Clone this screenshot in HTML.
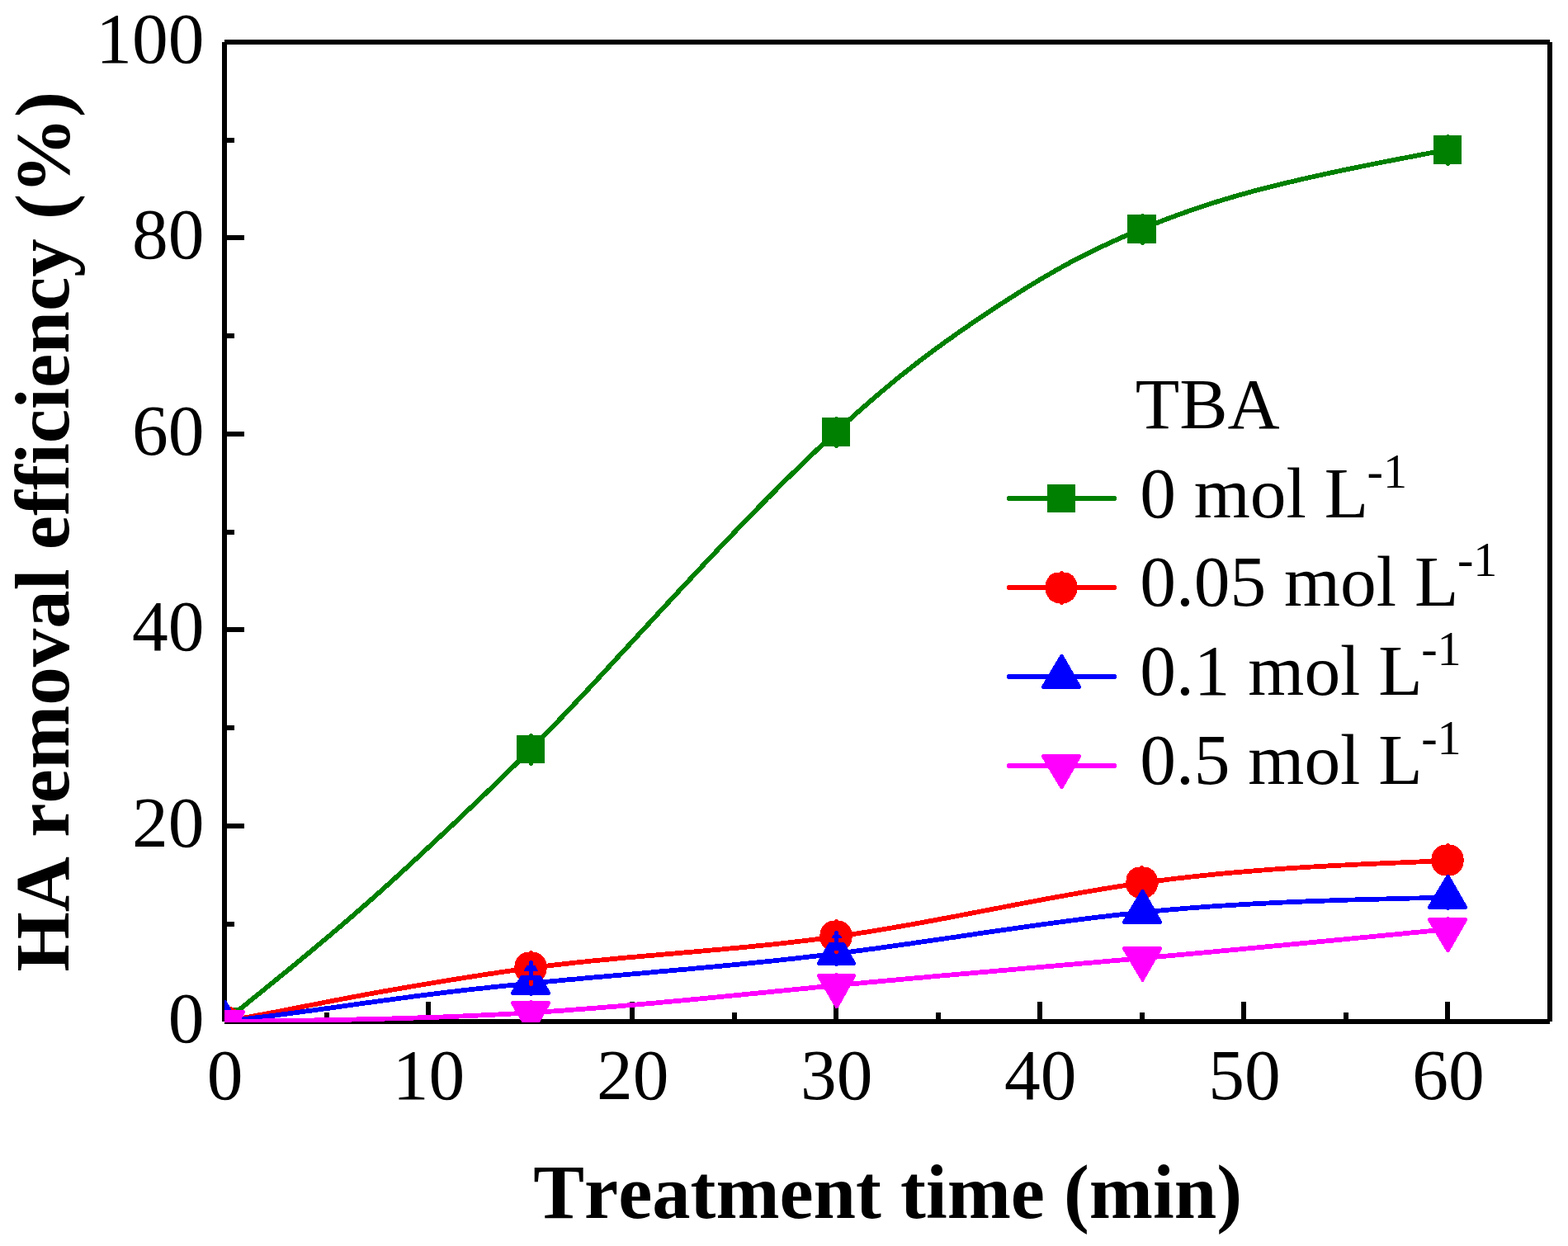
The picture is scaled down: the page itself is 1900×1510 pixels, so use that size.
<!DOCTYPE html>
<html lang="en"><head><meta charset="utf-8"><title>HA removal efficiency vs treatment time (TBA)</title>
<style>html,body{margin:0;padding:0;background:#fff;}body{width:1900px;height:1510px;overflow:hidden;}svg{display:block;}text{font-family:"Liberation Serif","DejaVu Serif",serif;fill:#000;font-kerning:none;font-variant-ligatures:none;font-feature-settings:"kern" 0,"liga" 0,"clig" 0;}</style>
</head><body>
<svg width="1900" height="1510" viewBox="0 0 1900 1510">
<rect x="0" y="0" width="1900" height="1510" fill="#fff"/>
<g fill="#000" shape-rendering="crispEdges">
<rect x="269" y="51" width="6" height="1187"/>
<rect x="1875" y="51" width="6" height="1187"/>
<rect x="272" y="48" width="1606" height="6"/>
<rect x="272" y="1235" width="1606" height="6"/>
<rect x="272" y="1117" width="12" height="6"/>
<rect x="272" y="998" width="24" height="6"/>
<rect x="272" y="879" width="12" height="6"/>
<rect x="272" y="760" width="24" height="6"/>
<rect x="272" y="642" width="12" height="6"/>
<rect x="272" y="523" width="24" height="6"/>
<rect x="272" y="404" width="12" height="6"/>
<rect x="272" y="285" width="24" height="6"/>
<rect x="272" y="167" width="12" height="6"/>
<rect x="393" y="1227" width="6" height="11"/>
<rect x="516" y="1214" width="6" height="24"/>
<rect x="640" y="1227" width="6" height="11"/>
<rect x="763" y="1214" width="6" height="24"/>
<rect x="887" y="1227" width="6" height="11"/>
<rect x="1010" y="1214" width="6" height="24"/>
<rect x="1134" y="1227" width="6" height="11"/>
<rect x="1257" y="1214" width="6" height="24"/>
<rect x="1381" y="1227" width="6" height="11"/>
<rect x="1504" y="1214" width="6" height="24"/>
<rect x="1628" y="1227" width="6" height="11"/>
<rect x="1751" y="1214" width="6" height="24"/>
</g>
<g font-size="87.46px" text-anchor="end">
<text x="247.4" y="1263.0">0</text>
<text x="247.4" y="1025.6">20</text>
<text x="247.4" y="788.2">40</text>
<text x="247.4" y="550.8">60</text>
<text x="247.4" y="313.4">80</text>
<text x="247.4" y="76.0">100</text>
</g>
<g font-size="87.46px" text-anchor="middle">
<text x="272.5" y="1331.5">0</text>
<text x="519.6" y="1331.5">10</text>
<text x="766.7" y="1331.5">20</text>
<text x="1013.7" y="1331.5">30</text>
<text x="1260.8" y="1331.5">40</text>
<text x="1507.9" y="1331.5">50</text>
<text x="1755.0" y="1331.5">60</text>
</g>
<text x="646.3" y="1475.6" font-size="92.6px" font-weight="bold">Treatment time (min)</text>
<text transform="translate(83.1,1177.6) rotate(-90)" font-size="93px" font-weight="bold">HA removal efficiency (%)</text>
<defs><clipPath id="plotclip"><rect x="272" y="40" width="1620" height="1199"/></clipPath></defs>
<g clip-path="url(#plotclip)" shape-rendering="crispEdges">
<path d="M272.0,1238.0 L277.7,1233.4 L283.4,1228.8 L289.2,1224.2 L294.9,1219.6 L300.6,1214.9 L306.3,1210.3 L312.1,1205.7 L317.8,1201.1 L323.5,1196.4 L329.2,1191.8 L334.9,1187.1 L340.7,1182.4 L346.4,1177.8 L352.1,1173.1 L357.8,1168.4 L363.6,1163.6 L369.3,1158.9 L375.0,1154.2 L380.7,1149.4 L386.4,1144.6 L392.2,1139.8 L397.9,1135.0 L403.6,1130.2 L409.3,1125.3 L415.1,1120.4 L420.8,1115.5 L426.5,1110.6 L432.2,1105.6 L437.9,1100.6 L443.7,1095.6 L449.4,1090.6 L455.1,1085.5 L460.8,1080.4 L466.5,1075.3 L472.3,1070.1 L478.0,1064.9 L483.7,1059.7 L489.4,1054.5 L495.2,1049.2 L500.9,1043.9 L506.6,1038.6 L512.3,1033.3 L518.0,1028.0 L523.8,1022.6 L529.5,1017.3 L535.2,1011.9 L540.9,1006.5 L546.7,1001.2 L552.4,995.8 L558.1,990.4 L563.8,984.9 L569.5,979.5 L575.3,974.1 L581.0,968.6 L586.7,963.2 L592.4,957.7 L598.2,952.2 L603.9,946.6 L609.6,941.1 L615.3,935.5 L621.0,929.9 L626.8,924.2 L632.5,918.5 L638.2,912.8 L643.9,907.1 L649.7,901.3 L655.4,895.4 L661.1,889.6 L666.8,883.7 L672.5,877.7 L678.3,871.8 L684.0,865.8 L689.7,859.7 L695.4,853.7 L701.2,847.6 L706.9,841.5 L712.6,835.4 L718.3,829.2 L724.0,823.1 L729.8,816.9 L735.5,810.7 L741.2,804.5 L746.9,798.3 L752.6,792.1 L758.4,785.9 L764.1,779.7 L769.8,773.5 L775.5,767.3 L781.3,761.1 L787.0,754.9 L792.7,748.7 L798.4,742.5 L804.1,736.3 L809.9,730.1 L815.6,723.9 L821.3,717.8 L827.0,711.6 L832.8,705.5 L838.5,699.4 L844.2,693.3 L849.9,687.2 L855.6,681.1 L861.4,675.0 L867.1,669.0 L872.8,663.0 L878.5,657.0 L884.3,651.0 L890.0,645.0 L895.7,639.1 L901.4,633.2 L907.1,627.3 L912.9,621.4 L918.6,615.5 L924.3,609.7 L930.0,603.9 L935.8,598.2 L941.5,592.4 L947.2,586.7 L952.9,581.0 L958.6,575.4 L964.4,569.8 L970.1,564.2 L975.8,558.7 L981.5,553.1 L987.3,547.7 L993.0,542.2 L998.7,536.8 L1004.4,531.5 L1010.1,526.1 L1015.9,520.9 L1021.6,515.6 L1027.3,510.4 L1033.0,505.3 L1038.7,500.2 L1044.5,495.1 L1050.2,490.1 L1055.9,485.1 L1061.6,480.2 L1067.4,475.3 L1073.1,470.5 L1078.8,465.7 L1084.5,461.0 L1090.2,456.4 L1096.0,451.8 L1101.7,447.3 L1107.4,442.8 L1113.1,438.4 L1118.9,434.0 L1124.6,429.7 L1130.3,425.4 L1136.0,421.2 L1141.7,417.1 L1147.5,412.9 L1153.2,408.9 L1158.9,404.8 L1164.6,400.8 L1170.4,396.9 L1176.1,392.9 L1181.8,389.1 L1187.5,385.2 L1193.2,381.4 L1199.0,377.6 L1204.7,373.8 L1210.4,370.0 L1216.1,366.3 L1221.9,362.6 L1227.6,359.0 L1233.3,355.3 L1239.0,351.8 L1244.7,348.2 L1250.5,344.7 L1256.2,341.3 L1261.9,337.8 L1267.6,334.5 L1273.4,331.2 L1279.1,327.9 L1284.8,324.7 L1290.5,321.5 L1296.2,318.4 L1302.0,315.4 L1307.7,312.4 L1313.4,309.4 L1319.1,306.6 L1324.8,303.7 L1330.6,301.0 L1336.3,298.3 L1342.0,295.6 L1347.7,293.0 L1353.5,290.4 L1359.2,287.8 L1364.9,285.3 L1370.6,282.9 L1376.3,280.5 L1382.1,278.1 L1387.8,275.7 L1393.5,273.4 L1399.2,271.2 L1405.0,268.9 L1410.7,266.7 L1416.4,264.5 L1422.1,262.4 L1427.8,260.3 L1433.6,258.2 L1439.3,256.2 L1445.0,254.2 L1450.7,252.2 L1456.5,250.3 L1462.2,248.4 L1467.9,246.6 L1473.6,244.8 L1479.3,243.0 L1485.1,241.3 L1490.8,239.6 L1496.5,237.9 L1502.2,236.3 L1508.0,234.7 L1513.7,233.1 L1519.4,231.5 L1525.1,230.0 L1530.8,228.5 L1536.6,227.1 L1542.3,225.6 L1548.0,224.2 L1553.7,222.8 L1559.5,221.5 L1565.2,220.1 L1570.9,218.8 L1576.6,217.4 L1582.3,216.1 L1588.1,214.8 L1593.8,213.5 L1599.5,212.3 L1605.2,211.0 L1610.9,209.8 L1616.7,208.6 L1622.4,207.3 L1628.1,206.1 L1633.8,204.9 L1639.6,203.8 L1645.3,202.6 L1651.0,201.4 L1656.7,200.3 L1662.4,199.1 L1668.2,198.0 L1673.9,196.8 L1679.6,195.7 L1685.3,194.6 L1691.1,193.5 L1696.8,192.4 L1702.5,191.3 L1708.2,190.2 L1713.9,189.1 L1719.7,188.0 L1725.4,186.9 L1731.1,185.8 L1736.8,184.7 L1742.6,183.7 L1748.3,182.6 L1754.0,181.5" fill="none" stroke="#008000" stroke-width="5.8" stroke-linejoin="round"/>
<rect x="255" y="1221" width="34" height="34" fill="#008000"/>
<rect x="626" y="891" width="34" height="34" fill="#008000"/><rect x="641.0" y="890.0" width="5" height="37.0" fill="#008000"/><rect x="642.0" y="889.0" width="3" height="39.0" fill="#008000"/>
<rect x="996" y="506" width="34" height="35" fill="#008000"/><rect x="1011.0" y="506.0" width="5" height="36.0" fill="#008000"/><rect x="1012.0" y="505.0" width="3" height="38.0" fill="#008000"/>
<rect x="1366" y="260" width="35" height="35" fill="#008000"/><rect x="1382.0" y="260.0" width="5" height="36.0" fill="#008000"/><rect x="1383.0" y="259.0" width="3" height="38.0" fill="#008000"/>
<rect x="1737" y="164" width="34" height="35" fill="#008000"/><rect x="1752.0" y="164.0" width="5" height="36.0" fill="#008000"/><rect x="1753.0" y="163.0" width="3" height="38.0" fill="#008000"/>
<path d="M272.0,1238.0 L277.7,1236.9 L283.4,1235.9 L289.2,1234.8 L294.9,1233.7 L300.6,1232.7 L306.3,1231.6 L312.1,1230.5 L317.8,1229.4 L323.5,1228.4 L329.2,1227.3 L334.9,1226.2 L340.7,1225.1 L346.4,1224.0 L352.1,1222.9 L357.8,1221.7 L363.6,1220.6 L369.3,1219.5 L375.0,1218.4 L380.7,1217.3 L386.4,1216.2 L392.2,1215.0 L397.9,1213.9 L403.6,1212.8 L409.3,1211.7 L415.1,1210.6 L420.8,1209.5 L426.5,1208.4 L432.2,1207.4 L437.9,1206.3 L443.7,1205.2 L449.4,1204.2 L455.1,1203.1 L460.8,1202.1 L466.5,1201.1 L472.3,1200.1 L478.0,1199.1 L483.7,1198.1 L489.4,1197.1 L495.2,1196.1 L500.9,1195.1 L506.6,1194.1 L512.3,1193.2 L518.0,1192.2 L523.8,1191.3 L529.5,1190.3 L535.2,1189.4 L540.9,1188.5 L546.7,1187.5 L552.4,1186.6 L558.1,1185.7 L563.8,1184.8 L569.5,1183.9 L575.3,1183.0 L581.0,1182.1 L586.7,1181.2 L592.4,1180.3 L598.2,1179.5 L603.9,1178.6 L609.6,1177.8 L615.3,1176.9 L621.0,1176.1 L626.8,1175.3 L632.5,1174.5 L638.2,1173.7 L643.9,1173.0 L649.7,1172.2 L655.4,1171.5 L661.1,1170.8 L666.8,1170.1 L672.5,1169.4 L678.3,1168.8 L684.0,1168.1 L689.7,1167.5 L695.4,1166.8 L701.2,1166.2 L706.9,1165.6 L712.6,1165.0 L718.3,1164.4 L724.0,1163.9 L729.8,1163.3 L735.5,1162.8 L741.2,1162.2 L746.9,1161.7 L752.6,1161.1 L758.4,1160.6 L764.1,1160.1 L769.8,1159.6 L775.5,1159.1 L781.3,1158.6 L787.0,1158.1 L792.7,1157.6 L798.4,1157.1 L804.1,1156.6 L809.9,1156.1 L815.6,1155.6 L821.3,1155.1 L827.0,1154.6 L832.8,1154.1 L838.5,1153.6 L844.2,1153.1 L849.9,1152.6 L855.6,1152.1 L861.4,1151.6 L867.1,1151.1 L872.8,1150.6 L878.5,1150.1 L884.3,1149.5 L890.0,1149.0 L895.7,1148.5 L901.4,1147.9 L907.1,1147.4 L912.9,1146.8 L918.6,1146.2 L924.3,1145.7 L930.0,1145.1 L935.8,1144.5 L941.5,1143.9 L947.2,1143.3 L952.9,1142.6 L958.6,1142.0 L964.4,1141.3 L970.1,1140.6 L975.8,1140.0 L981.5,1139.3 L987.3,1138.5 L993.0,1137.8 L998.7,1137.1 L1004.4,1136.3 L1010.1,1135.5 L1015.9,1134.7 L1021.6,1133.9 L1027.3,1133.0 L1033.0,1132.2 L1038.7,1131.3 L1044.5,1130.4 L1050.2,1129.5 L1055.9,1128.6 L1061.6,1127.7 L1067.4,1126.7 L1073.1,1125.8 L1078.8,1124.8 L1084.5,1123.8 L1090.2,1122.8 L1096.0,1121.8 L1101.7,1120.8 L1107.4,1119.8 L1113.1,1118.7 L1118.9,1117.7 L1124.6,1116.6 L1130.3,1115.6 L1136.0,1114.5 L1141.7,1113.4 L1147.5,1112.4 L1153.2,1111.3 L1158.9,1110.2 L1164.6,1109.1 L1170.4,1108.0 L1176.1,1106.9 L1181.8,1105.8 L1187.5,1104.7 L1193.2,1103.6 L1199.0,1102.5 L1204.7,1101.4 L1210.4,1100.3 L1216.1,1099.2 L1221.9,1098.1 L1227.6,1097.0 L1233.3,1095.9 L1239.0,1094.8 L1244.7,1093.7 L1250.5,1092.7 L1256.2,1091.6 L1261.9,1090.5 L1267.6,1089.4 L1273.4,1088.4 L1279.1,1087.3 L1284.8,1086.3 L1290.5,1085.3 L1296.2,1084.2 L1302.0,1083.2 L1307.7,1082.2 L1313.4,1081.2 L1319.1,1080.2 L1324.8,1079.3 L1330.6,1078.3 L1336.3,1077.3 L1342.0,1076.4 L1347.7,1075.5 L1353.5,1074.6 L1359.2,1073.7 L1364.9,1072.8 L1370.6,1072.0 L1376.3,1071.1 L1382.1,1070.3 L1387.8,1069.5 L1393.5,1068.7 L1399.2,1067.9 L1405.0,1067.2 L1410.7,1066.5 L1416.4,1065.7 L1422.1,1065.0 L1427.8,1064.3 L1433.6,1063.7 L1439.3,1063.0 L1445.0,1062.4 L1450.7,1061.8 L1456.5,1061.2 L1462.2,1060.6 L1467.9,1060.0 L1473.6,1059.4 L1479.3,1058.9 L1485.1,1058.3 L1490.8,1057.8 L1496.5,1057.3 L1502.2,1056.8 L1508.0,1056.3 L1513.7,1055.8 L1519.4,1055.4 L1525.1,1054.9 L1530.8,1054.5 L1536.6,1054.1 L1542.3,1053.6 L1548.0,1053.2 L1553.7,1052.8 L1559.5,1052.4 L1565.2,1052.1 L1570.9,1051.7 L1576.6,1051.3 L1582.3,1051.0 L1588.1,1050.6 L1593.8,1050.3 L1599.5,1050.0 L1605.2,1049.7 L1610.9,1049.3 L1616.7,1049.0 L1622.4,1048.7 L1628.1,1048.5 L1633.8,1048.2 L1639.6,1047.9 L1645.3,1047.6 L1651.0,1047.3 L1656.7,1047.1 L1662.4,1046.8 L1668.2,1046.6 L1673.9,1046.3 L1679.6,1046.1 L1685.3,1045.8 L1691.1,1045.6 L1696.8,1045.4 L1702.5,1045.1 L1708.2,1044.9 L1713.9,1044.7 L1719.7,1044.4 L1725.4,1044.2 L1731.1,1044.0 L1736.8,1043.8 L1742.6,1043.5 L1748.3,1043.3 L1754.0,1043.1" fill="none" stroke="#ff0000" stroke-width="5.8" stroke-linejoin="round"/>
<path d="M264.67,1219.50 L279.33,1219.50 A19.9,19.9 0 0 1 291.00,1232.08 L291.00,1243.92 A19.9,19.9 0 0 1 279.33,1256.50 L264.67,1256.50 A19.9,19.9 0 0 1 253.00,1243.92 L253.00,1232.08 A19.9,19.9 0 0 1 264.67,1219.50 Z" fill="#ff0000"/><rect x="270.5" y="1217.5" width="3" height="41" fill="#ff0000"/><rect x="269.5" y="1218.5" width="5" height="39" fill="#ff0000"/><rect x="252.0" y="1235.5" width="40" height="5" fill="#ff0000"/>
<path d="M635.67,1154.00 L650.33,1154.00 A19.9,19.9 0 0 1 662.00,1166.58 L662.00,1178.42 A19.9,19.9 0 0 1 650.33,1191.00 L635.67,1191.00 A19.9,19.9 0 0 1 624.00,1178.42 L624.00,1166.58 A19.9,19.9 0 0 1 635.67,1154.00 Z" fill="#ff0000"/><rect x="641.5" y="1152.0" width="3" height="41" fill="#ff0000"/><rect x="640.5" y="1153.0" width="5" height="39" fill="#ff0000"/><rect x="623.0" y="1170.0" width="40" height="5" fill="#ff0000"/>
<path d="M1005.67,1116.00 L1020.33,1116.00 A19.9,19.9 0 0 1 1032.00,1128.58 L1032.00,1140.42 A19.9,19.9 0 0 1 1020.33,1153.00 L1005.67,1153.00 A19.9,19.9 0 0 1 994.00,1140.42 L994.00,1128.58 A19.9,19.9 0 0 1 1005.67,1116.00 Z" fill="#ff0000"/><rect x="1011.5" y="1114.0" width="3" height="41" fill="#ff0000"/><rect x="1010.5" y="1115.0" width="5" height="39" fill="#ff0000"/><rect x="993.0" y="1132.0" width="40" height="5" fill="#ff0000"/>
<path d="M1376.17,1051.00 L1390.83,1051.00 A19.9,19.9 0 0 1 1402.50,1063.58 L1402.50,1075.42 A19.9,19.9 0 0 1 1390.83,1088.00 L1376.17,1088.00 A19.9,19.9 0 0 1 1364.50,1075.42 L1364.50,1063.58 A19.9,19.9 0 0 1 1376.17,1051.00 Z" fill="#ff0000"/><rect x="1382.0" y="1049.0" width="3" height="41" fill="#ff0000"/><rect x="1381.0" y="1050.0" width="5" height="39" fill="#ff0000"/><rect x="1363.5" y="1067.0" width="40" height="5" fill="#ff0000"/>
<path d="M1746.67,1024.00 L1761.33,1024.00 A19.9,19.9 0 0 1 1773.00,1036.58 L1773.00,1048.42 A19.9,19.9 0 0 1 1761.33,1061.00 L1746.67,1061.00 A19.9,19.9 0 0 1 1735.00,1048.42 L1735.00,1036.58 A19.9,19.9 0 0 1 1746.67,1024.00 Z" fill="#ff0000"/><rect x="1752.5" y="1022.0" width="3" height="41" fill="#ff0000"/><rect x="1751.5" y="1023.0" width="5" height="39" fill="#ff0000"/><rect x="1734.0" y="1040.0" width="40" height="5" fill="#ff0000"/>
<path d="M272.0,1238.0 L277.7,1237.3 L283.4,1236.6 L289.2,1235.9 L294.9,1235.2 L300.6,1234.5 L306.3,1233.8 L312.1,1233.1 L317.8,1232.4 L323.5,1231.7 L329.2,1231.0 L334.9,1230.3 L340.7,1229.5 L346.4,1228.8 L352.1,1228.0 L357.8,1227.3 L363.6,1226.5 L369.3,1225.7 L375.0,1224.9 L380.7,1224.2 L386.4,1223.4 L392.2,1222.6 L397.9,1221.8 L403.6,1221.0 L409.3,1220.2 L415.1,1219.4 L420.8,1218.6 L426.5,1217.8 L432.2,1217.0 L437.9,1216.2 L443.7,1215.4 L449.4,1214.6 L455.1,1213.8 L460.8,1213.0 L466.5,1212.2 L472.3,1211.5 L478.0,1210.7 L483.7,1209.9 L489.4,1209.2 L495.2,1208.4 L500.9,1207.6 L506.6,1206.9 L512.3,1206.2 L518.0,1205.4 L523.8,1204.7 L529.5,1204.0 L535.2,1203.3 L540.9,1202.6 L546.7,1201.9 L552.4,1201.2 L558.1,1200.6 L563.8,1199.9 L569.5,1199.2 L575.3,1198.6 L581.0,1198.0 L586.7,1197.4 L592.4,1196.7 L598.2,1196.1 L603.9,1195.5 L609.6,1194.9 L615.3,1194.4 L621.0,1193.8 L626.8,1193.2 L632.5,1192.6 L638.2,1192.1 L643.9,1191.5 L649.7,1191.0 L655.4,1190.4 L661.1,1189.9 L666.8,1189.3 L672.5,1188.8 L678.3,1188.3 L684.0,1187.7 L689.7,1187.2 L695.4,1186.7 L701.2,1186.2 L706.9,1185.6 L712.6,1185.1 L718.3,1184.6 L724.0,1184.1 L729.8,1183.6 L735.5,1183.1 L741.2,1182.6 L746.9,1182.1 L752.6,1181.6 L758.4,1181.1 L764.1,1180.6 L769.8,1180.1 L775.5,1179.6 L781.3,1179.1 L787.0,1178.6 L792.7,1178.0 L798.4,1177.5 L804.1,1177.0 L809.9,1176.5 L815.6,1176.0 L821.3,1175.5 L827.0,1175.0 L832.8,1174.5 L838.5,1173.9 L844.2,1173.4 L849.9,1172.9 L855.6,1172.4 L861.4,1171.8 L867.1,1171.3 L872.8,1170.8 L878.5,1170.2 L884.3,1169.7 L890.0,1169.1 L895.7,1168.6 L901.4,1168.0 L907.1,1167.4 L912.9,1166.8 L918.6,1166.3 L924.3,1165.7 L930.0,1165.1 L935.8,1164.5 L941.5,1163.9 L947.2,1163.3 L952.9,1162.6 L958.6,1162.0 L964.4,1161.4 L970.1,1160.7 L975.8,1160.1 L981.5,1159.4 L987.3,1158.8 L993.0,1158.1 L998.7,1157.4 L1004.4,1156.7 L1010.1,1156.0 L1015.9,1155.3 L1021.6,1154.6 L1027.3,1153.9 L1033.0,1153.1 L1038.7,1152.4 L1044.5,1151.6 L1050.2,1150.8 L1055.9,1150.1 L1061.6,1149.3 L1067.4,1148.5 L1073.1,1147.7 L1078.8,1146.9 L1084.5,1146.1 L1090.2,1145.3 L1096.0,1144.5 L1101.7,1143.7 L1107.4,1142.9 L1113.1,1142.0 L1118.9,1141.2 L1124.6,1140.4 L1130.3,1139.5 L1136.0,1138.7 L1141.7,1137.9 L1147.5,1137.0 L1153.2,1136.2 L1158.9,1135.4 L1164.6,1134.5 L1170.4,1133.7 L1176.1,1132.8 L1181.8,1132.0 L1187.5,1131.1 L1193.2,1130.3 L1199.0,1129.5 L1204.7,1128.6 L1210.4,1127.8 L1216.1,1127.0 L1221.9,1126.1 L1227.6,1125.3 L1233.3,1124.5 L1239.0,1123.7 L1244.7,1122.9 L1250.5,1122.1 L1256.2,1121.3 L1261.9,1120.5 L1267.6,1119.7 L1273.4,1118.9 L1279.1,1118.1 L1284.8,1117.4 L1290.5,1116.6 L1296.2,1115.9 L1302.0,1115.1 L1307.7,1114.4 L1313.4,1113.7 L1319.1,1112.9 L1324.8,1112.2 L1330.6,1111.5 L1336.3,1110.9 L1342.0,1110.2 L1347.7,1109.5 L1353.5,1108.9 L1359.2,1108.2 L1364.9,1107.6 L1370.6,1107.0 L1376.3,1106.4 L1382.1,1105.8 L1387.8,1105.2 L1393.5,1104.7 L1399.2,1104.1 L1405.0,1103.6 L1410.7,1103.1 L1416.4,1102.5 L1422.1,1102.1 L1427.8,1101.6 L1433.6,1101.1 L1439.3,1100.6 L1445.0,1100.2 L1450.7,1099.8 L1456.5,1099.3 L1462.2,1098.9 L1467.9,1098.5 L1473.6,1098.1 L1479.3,1097.7 L1485.1,1097.4 L1490.8,1097.0 L1496.5,1096.7 L1502.2,1096.3 L1508.0,1096.0 L1513.7,1095.7 L1519.4,1095.3 L1525.1,1095.0 L1530.8,1094.7 L1536.6,1094.5 L1542.3,1094.2 L1548.0,1093.9 L1553.7,1093.6 L1559.5,1093.4 L1565.2,1093.1 L1570.9,1092.9 L1576.6,1092.7 L1582.3,1092.4 L1588.1,1092.2 L1593.8,1092.0 L1599.5,1091.8 L1605.2,1091.6 L1610.9,1091.4 L1616.7,1091.2 L1622.4,1091.0 L1628.1,1090.8 L1633.8,1090.6 L1639.6,1090.5 L1645.3,1090.3 L1651.0,1090.1 L1656.7,1090.0 L1662.4,1089.8 L1668.2,1089.7 L1673.9,1089.5 L1679.6,1089.4 L1685.3,1089.2 L1691.1,1089.1 L1696.8,1088.9 L1702.5,1088.8 L1708.2,1088.6 L1713.9,1088.5 L1719.7,1088.4 L1725.4,1088.2 L1731.1,1088.1 L1736.8,1088.0 L1742.6,1087.9 L1748.3,1087.7 L1754.0,1087.6" fill="none" stroke="#0000ff" stroke-width="5.8" stroke-linejoin="round"/>
<polygon points="272.5,1214.5 293.5,1251.5 250.5,1251.5" fill="#0000ff" stroke="#0000ff" stroke-width="5" stroke-linejoin="round"/>
<polygon points="643.5,1166.5 664.5,1203.5 621.5,1203.5" fill="#0000ff" stroke="#0000ff" stroke-width="5" stroke-linejoin="round"/><rect x="641.0" y="1193.0" width="5" height="13.0" fill="#0000ff"/><rect x="642.0" y="1192.0" width="3" height="15.0" fill="#0000ff"/>
<polygon points="1014.0,1130.5 1034.5,1167.5 992.5,1167.5" fill="#0000ff" stroke="#0000ff" stroke-width="5" stroke-linejoin="round"/><rect x="1011.0" y="1157.0" width="5" height="13.0" fill="#0000ff"/><rect x="1012.0" y="1156.0" width="3" height="15.0" fill="#0000ff"/>
<polygon points="1384.5,1080.5 1405.5,1117.5 1362.5,1117.5" fill="#0000ff" stroke="#0000ff" stroke-width="5" stroke-linejoin="round"/>
<polygon points="1754.5,1062.5 1775.5,1099.5 1732.5,1099.5" fill="#0000ff" stroke="#0000ff" stroke-width="5" stroke-linejoin="round"/><rect x="1752.0" y="1089.0" width="5" height="13.0" fill="#0000ff"/><rect x="1753.0" y="1088.0" width="3" height="15.0" fill="#0000ff"/>
<rect x="634" y="1163" width="19" height="7" fill="#ff0000"/>
<rect x="629" y="1177" width="29" height="5" fill="#ff0000"/>
<rect x="641" y="1165" width="5" height="23" fill="#0000ff"/><rect x="642" y="1164" width="3" height="2" fill="#0000ff"/>
<rect x="641" y="1188" width="5" height="6" fill="#ff0000"/><rect x="642" y="1194" width="3" height="1" fill="#ff0000"/>
<rect x="1004" y="1127" width="19" height="6" fill="#ff0000"/>
<rect x="999" y="1137" width="29" height="5" fill="#ff0000"/>
<rect x="1011" y="1129" width="5" height="13" fill="#0000ff"/><rect x="1012" y="1128" width="3" height="2" fill="#0000ff"/>
<rect x="1011" y="1152" width="5" height="3" fill="#ff0000"/><rect x="1012" y="1155" width="3" height="1" fill="#ff0000"/>
<path d="M272.0,1238.0 L277.7,1237.9 L283.4,1237.9 L289.2,1237.8 L294.9,1237.7 L300.6,1237.6 L306.3,1237.6 L312.1,1237.5 L317.8,1237.4 L323.5,1237.3 L329.2,1237.2 L334.9,1237.2 L340.7,1237.1 L346.4,1237.0 L352.1,1236.9 L357.8,1236.8 L363.6,1236.7 L369.3,1236.6 L375.0,1236.5 L380.7,1236.4 L386.4,1236.3 L392.2,1236.2 L397.9,1236.1 L403.6,1236.0 L409.3,1235.9 L415.1,1235.8 L420.8,1235.7 L426.5,1235.6 L432.2,1235.4 L437.9,1235.3 L443.7,1235.2 L449.4,1235.0 L455.1,1234.9 L460.8,1234.8 L466.5,1234.6 L472.3,1234.5 L478.0,1234.3 L483.7,1234.1 L489.4,1234.0 L495.2,1233.8 L500.9,1233.6 L506.6,1233.4 L512.3,1233.3 L518.0,1233.1 L523.8,1232.9 L529.5,1232.7 L535.2,1232.5 L540.9,1232.2 L546.7,1232.0 L552.4,1231.8 L558.1,1231.5 L563.8,1231.3 L569.5,1231.1 L575.3,1230.8 L581.0,1230.5 L586.7,1230.3 L592.4,1230.0 L598.2,1229.7 L603.9,1229.4 L609.6,1229.1 L615.3,1228.8 L621.0,1228.5 L626.8,1228.2 L632.5,1227.8 L638.2,1227.5 L643.9,1227.1 L649.7,1226.8 L655.4,1226.4 L661.1,1226.0 L666.8,1225.7 L672.5,1225.3 L678.3,1224.9 L684.0,1224.5 L689.7,1224.1 L695.4,1223.6 L701.2,1223.2 L706.9,1222.8 L712.6,1222.3 L718.3,1221.9 L724.0,1221.4 L729.8,1221.0 L735.5,1220.5 L741.2,1220.0 L746.9,1219.6 L752.6,1219.1 L758.4,1218.6 L764.1,1218.1 L769.8,1217.6 L775.5,1217.1 L781.3,1216.6 L787.0,1216.1 L792.7,1215.6 L798.4,1215.1 L804.1,1214.5 L809.9,1214.0 L815.6,1213.5 L821.3,1212.9 L827.0,1212.4 L832.8,1211.9 L838.5,1211.3 L844.2,1210.8 L849.9,1210.2 L855.6,1209.7 L861.4,1209.1 L867.1,1208.6 L872.8,1208.0 L878.5,1207.5 L884.3,1206.9 L890.0,1206.3 L895.7,1205.8 L901.4,1205.2 L907.1,1204.6 L912.9,1204.1 L918.6,1203.5 L924.3,1202.9 L930.0,1202.4 L935.8,1201.8 L941.5,1201.2 L947.2,1200.7 L952.9,1200.1 L958.6,1199.5 L964.4,1199.0 L970.1,1198.4 L975.8,1197.9 L981.5,1197.3 L987.3,1196.7 L993.0,1196.2 L998.7,1195.6 L1004.4,1195.1 L1010.1,1194.5 L1015.9,1194.0 L1021.6,1193.4 L1027.3,1192.9 L1033.0,1192.3 L1038.7,1191.8 L1044.5,1191.3 L1050.2,1190.7 L1055.9,1190.2 L1061.6,1189.7 L1067.4,1189.1 L1073.1,1188.6 L1078.8,1188.1 L1084.5,1187.6 L1090.2,1187.0 L1096.0,1186.5 L1101.7,1186.0 L1107.4,1185.5 L1113.1,1185.0 L1118.9,1184.5 L1124.6,1183.9 L1130.3,1183.4 L1136.0,1182.9 L1141.7,1182.4 L1147.5,1181.9 L1153.2,1181.4 L1158.9,1180.9 L1164.6,1180.4 L1170.4,1179.9 L1176.1,1179.4 L1181.8,1178.9 L1187.5,1178.4 L1193.2,1177.9 L1199.0,1177.4 L1204.7,1176.9 L1210.4,1176.4 L1216.1,1175.9 L1221.9,1175.4 L1227.6,1174.9 L1233.3,1174.4 L1239.0,1173.9 L1244.7,1173.4 L1250.5,1172.9 L1256.2,1172.4 L1261.9,1171.9 L1267.6,1171.4 L1273.4,1170.9 L1279.1,1170.4 L1284.8,1169.9 L1290.5,1169.4 L1296.2,1168.9 L1302.0,1168.4 L1307.7,1167.9 L1313.4,1167.4 L1319.1,1166.9 L1324.8,1166.4 L1330.6,1165.9 L1336.3,1165.4 L1342.0,1164.9 L1347.7,1164.4 L1353.5,1163.9 L1359.2,1163.4 L1364.9,1162.9 L1370.6,1162.4 L1376.3,1161.9 L1382.1,1161.4 L1387.8,1160.9 L1393.5,1160.3 L1399.2,1159.8 L1405.0,1159.3 L1410.7,1158.8 L1416.4,1158.3 L1422.1,1157.8 L1427.8,1157.2 L1433.6,1156.7 L1439.3,1156.2 L1445.0,1155.7 L1450.7,1155.1 L1456.5,1154.6 L1462.2,1154.1 L1467.9,1153.6 L1473.6,1153.0 L1479.3,1152.5 L1485.1,1152.0 L1490.8,1151.4 L1496.5,1150.9 L1502.2,1150.4 L1508.0,1149.8 L1513.7,1149.3 L1519.4,1148.7 L1525.1,1148.2 L1530.8,1147.7 L1536.6,1147.1 L1542.3,1146.6 L1548.0,1146.0 L1553.7,1145.5 L1559.5,1145.0 L1565.2,1144.4 L1570.9,1143.9 L1576.6,1143.3 L1582.3,1142.8 L1588.1,1142.2 L1593.8,1141.7 L1599.5,1141.1 L1605.2,1140.6 L1610.9,1140.0 L1616.7,1139.5 L1622.4,1138.9 L1628.1,1138.4 L1633.8,1137.8 L1639.6,1137.3 L1645.3,1136.7 L1651.0,1136.2 L1656.7,1135.6 L1662.4,1135.1 L1668.2,1134.5 L1673.9,1134.0 L1679.6,1133.4 L1685.3,1132.9 L1691.1,1132.3 L1696.8,1131.8 L1702.5,1131.2 L1708.2,1130.6 L1713.9,1130.1 L1719.7,1129.5 L1725.4,1129.0 L1731.1,1128.4 L1736.8,1127.9 L1742.6,1127.3 L1748.3,1126.8 L1754.0,1126.2" fill="none" stroke="#ff00ff" stroke-width="5.8" stroke-linejoin="round"/>
<polygon points="273.5,1263.5 294.5,1226.5 251.5,1226.5" fill="#ff00ff" stroke="#ff00ff" stroke-width="5" stroke-linejoin="round"/>
<polygon points="643.5,1252.5 664.5,1215.5 621.5,1215.5" fill="#ff00ff" stroke="#ff00ff" stroke-width="5" stroke-linejoin="round"/><rect x="641.0" y="1213.0" width="5" height="13.0" fill="#ff00ff"/><rect x="642.0" y="1212.0" width="3" height="15.0" fill="#ff00ff"/>
<polygon points="1014.0,1219.5 1034.5,1182.5 992.5,1182.5" fill="#ff00ff" stroke="#ff00ff" stroke-width="5" stroke-linejoin="round"/><rect x="1011.0" y="1180.0" width="5" height="13.0" fill="#ff00ff"/><rect x="1012.0" y="1179.0" width="3" height="15.0" fill="#ff00ff"/>
<polygon points="1384.5,1186.5 1405.5,1149.5 1362.5,1149.5" fill="#ff00ff" stroke="#ff00ff" stroke-width="5" stroke-linejoin="round"/><rect x="1383.0" y="1181.0" width="3" height="9" fill="#ff00ff"/>
<polygon points="1754.5,1151.5 1775.5,1114.5 1732.5,1114.5" fill="#ff00ff" stroke="#ff00ff" stroke-width="5" stroke-linejoin="round"/><rect x="1752.0" y="1112.0" width="5" height="13.0" fill="#ff00ff"/><rect x="1753.0" y="1111.0" width="3" height="15.0" fill="#ff00ff"/>
</g>
<g shape-rendering="crispEdges">
<line x1="1223" y1="604" x2="1350" y2="604" stroke="#008000" stroke-width="6" stroke-linecap="round"/>
<rect x="1269" y="587" width="34" height="34" fill="#008000"/>
<line x1="1223" y1="712" x2="1350" y2="712" stroke="#ff0000" stroke-width="6" stroke-linecap="round"/>
<path d="M1278.67,693.50 L1293.33,693.50 A19.9,19.9 0 0 1 1305.00,706.08 L1305.00,717.92 A19.9,19.9 0 0 1 1293.33,730.50 L1278.67,730.50 A19.9,19.9 0 0 1 1267.00,717.92 L1267.00,706.08 A19.9,19.9 0 0 1 1278.67,693.50 Z" fill="#ff0000"/><rect x="1284.5" y="691.5" width="3" height="41" fill="#ff0000"/><rect x="1283.5" y="692.5" width="5" height="39" fill="#ff0000"/><rect x="1266.0" y="709.5" width="40" height="5" fill="#ff0000"/>
<line x1="1223" y1="820" x2="1350" y2="820" stroke="#0000ff" stroke-width="6" stroke-linecap="round"/>
<polygon points="1286.5,795.5 1307.5,832.5 1264.5,832.5" fill="#0000ff" stroke="#0000ff" stroke-width="5" stroke-linejoin="round"/>
<line x1="1223" y1="928" x2="1350" y2="928" stroke="#ff00ff" stroke-width="6" stroke-linecap="round"/>
<polygon points="1286.5,953.5 1307.5,916.5 1264.5,916.5" fill="#ff00ff" stroke="#ff00ff" stroke-width="5" stroke-linejoin="round"/>
</g>
<g font-size="87.46px">
<text x="1375.8" y="519.2">TBA</text>
<text x="1381.2" y="626.5">0 mol L<tspan font-size="58.3px" dx="-1.5" dy="-36">-1</tspan></text>
<text x="1381.2" y="734.0">0.05 mol L<tspan font-size="58.3px" dx="-1.5" dy="-36">-1</tspan></text>
<text x="1381.2" y="842.3">0.1 mol L<tspan font-size="58.3px" dx="-1.5" dy="-36">-1</tspan></text>
<text x="1381.2" y="950.1">0.5 mol L<tspan font-size="58.3px" dx="-1.5" dy="-36">-1</tspan></text>
</g>
</svg></body></html>
